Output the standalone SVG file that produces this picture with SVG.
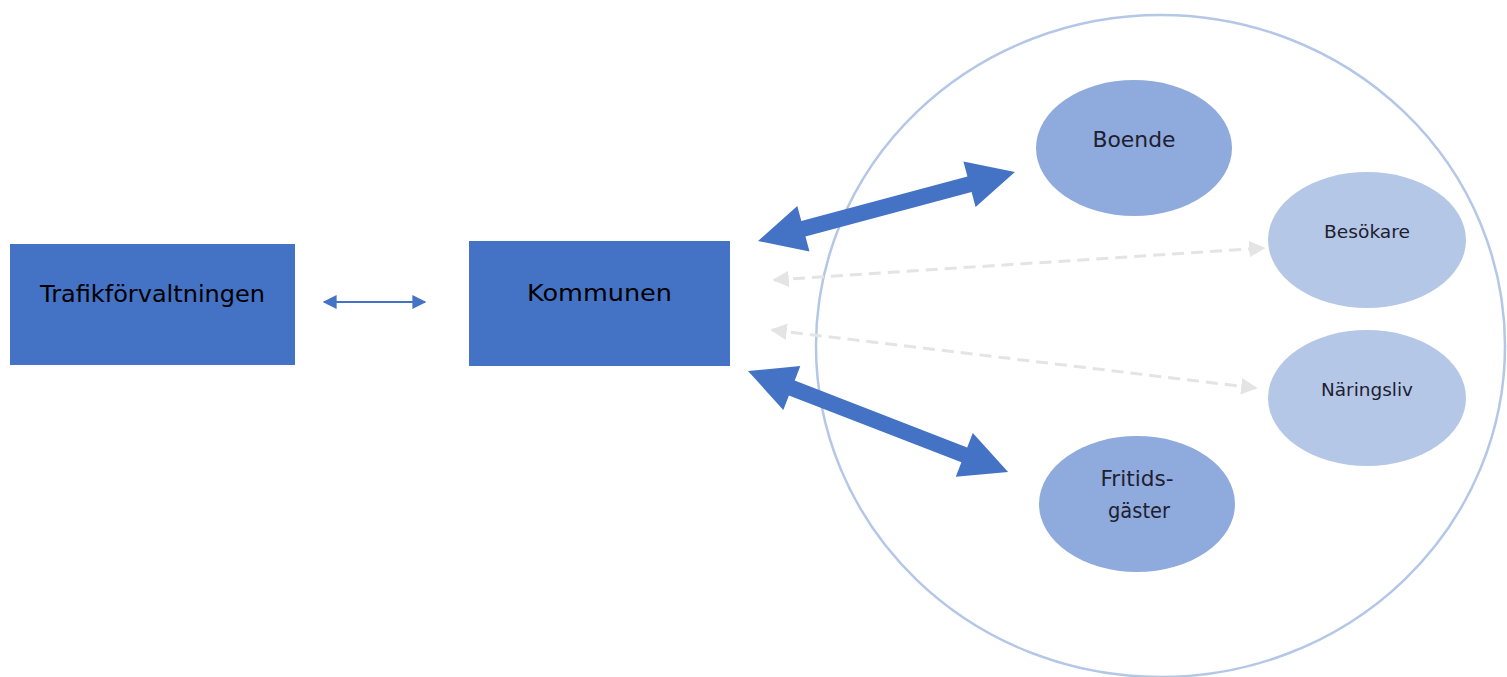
<svg xmlns="http://www.w3.org/2000/svg" width="1507" height="677" viewBox="0 0 1507 677">
  <style>
    .box { fill: #4472c4; }
    .boxlabel { font-family: "DejaVu Sans", "Liberation Sans", sans-serif; font-size: 23.5px; fill: #000; text-anchor: middle; }
    .dark { fill: #8faadc; }
    .light { fill: #b4c7e7; }
    .label { font-family: "DejaVu Sans", "Liberation Sans", sans-serif; fill: #1e2030; text-anchor: middle; }
    .big { font-size: 21.5px; }
    .small { font-size: 18.5px; }
    .thick { fill: #4472c4; }
    .dash { stroke: #e4e4e4; stroke-width: 3; stroke-dasharray: 12 7; fill: none; }
  </style>
  <defs>
    <marker id="grayHead" viewBox="0 0 10 10" refX="9" refY="5" markerWidth="5.5" markerHeight="5.5" orient="auto-start-reverse" markerUnits="strokeWidth">
      <path d="M0,0 L10,5 L0,10 Z" fill="#e4e4e4"/>
    </marker>
    <marker id="blueHead" viewBox="0 0 10 10" refX="9" refY="5" markerWidth="7.5" markerHeight="7" orient="auto-start-reverse" markerUnits="strokeWidth">
      <path d="M0,0 L10,5 L0,10 Z" fill="#4472c4"/>
    </marker>
  </defs>

  <!-- surrounding circle -->
  <ellipse id="omrade" cx="1160.5" cy="346" rx="344.5" ry="331" fill="none" stroke="#b4c7e7" stroke-width="2.5"/>

  <g id="connectors">
    <!-- thin link between the two organisations -->
    <line x1="324" y1="302" x2="425" y2="302" stroke="#4472c4" stroke-width="2" marker-start="url(#blueHead)" marker-end="url(#blueHead)"/>
    <!-- thick two-way arrows, drawn along x then rotated -->
    <path class="thick" transform="translate(758,241) rotate(-15.03)" d="M0,0 L47,-23.5 L47,-8 L219,-8 L219,-23.5 L266,0 L219,23.5 L219,8 L47,8 L47,23.5 Z"/>
    <path class="thick" transform="translate(748,371) rotate(21.2)" d="M0,0 L47,-23.5 L47,-8 L232,-8 L232,-23.5 L279,0 L232,23.5 L232,8 L47,8 L47,23.5 Z"/>
    <!-- dashed two-way links -->
    <line class="dash" x1="774" y1="280" x2="1264" y2="248" marker-start="url(#grayHead)" marker-end="url(#grayHead)"/>
    <line class="dash" x1="772" y1="330" x2="1256" y2="388" marker-start="url(#grayHead)" marker-end="url(#grayHead)"/>
  </g>

  <g id="trafikforvaltningen">
    <rect class="box" x="10" y="244" width="285" height="121"/>
    <text class="boxlabel" x="152.5" y="302" textLength="225" lengthAdjust="spacingAndGlyphs">Trafikförvaltningen</text>
  </g>

  <g id="kommunen">
    <rect class="box" x="469" y="241" width="261" height="125"/>
    <text class="boxlabel" x="599.5" y="301" textLength="145" lengthAdjust="spacingAndGlyphs">Kommunen</text>
  </g>

  <g id="boende">
    <ellipse class="dark" cx="1134" cy="148" rx="98" ry="68"/>
    <text class="label big" x="1134" y="147" textLength="83" lengthAdjust="spacingAndGlyphs">Boende</text>
  </g>

  <g id="besokare">
    <ellipse class="light" cx="1367" cy="240" rx="99" ry="68"/>
    <text class="label small" x="1367" y="238" textLength="86" lengthAdjust="spacingAndGlyphs">Besökare</text>
  </g>

  <g id="naringsliv">
    <ellipse class="light" cx="1367" cy="398" rx="99" ry="68"/>
    <text class="label small" x="1367" y="396" textLength="92" lengthAdjust="spacingAndGlyphs">Näringsliv</text>
  </g>

  <g id="fritidsgaster">
    <ellipse class="dark" cx="1137" cy="504" rx="98" ry="68"/>
    <text class="label big" x="1137" y="486" textLength="73" lengthAdjust="spacingAndGlyphs">Fritids-</text>
    <text class="label big" x="1139" y="518" textLength="62" lengthAdjust="spacingAndGlyphs">gäster</text>
  </g>
</svg>
